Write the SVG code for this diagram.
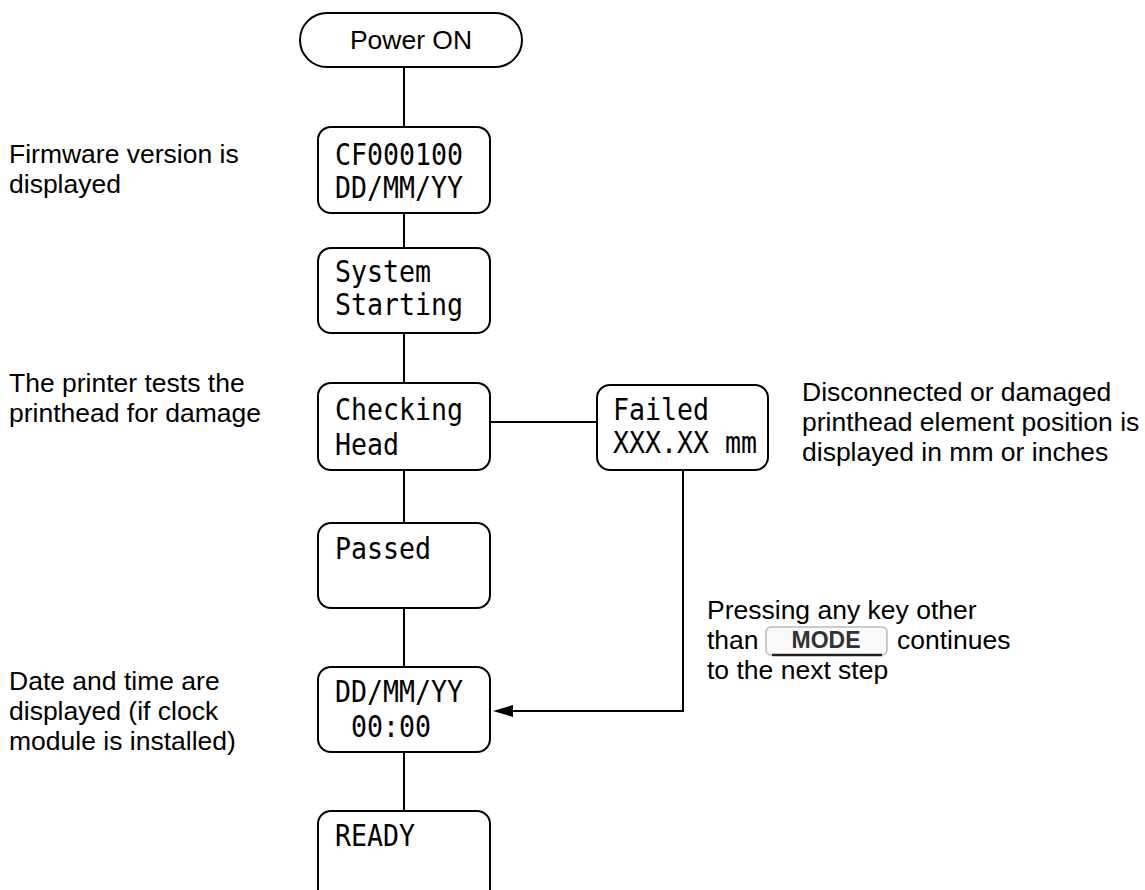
<svg xmlns="http://www.w3.org/2000/svg" width="1145" height="890" viewBox="0 0 1145 890">
<style>
.box{fill:#fff;stroke:#000;stroke-width:2}
.lcd{font-family:"DejaVu Sans Mono",monospace;font-size:30px;fill:#000}
.lbl{font-family:"Liberation Sans",Arial,sans-serif;font-size:26.5px;fill:#000}
.conn{fill:none;stroke:#000;stroke-width:2}
</style>
<rect width="1145" height="890" fill="#fff"/>
<g id="connectors">
<line class="conn" x1="404" y1="67" x2="404" y2="127"/>
<line class="conn" x1="404" y1="213" x2="404" y2="248"/>
<line class="conn" x1="404" y1="333" x2="404" y2="383"/>
<line class="conn" x1="404" y1="470" x2="404" y2="523"/>
<line class="conn" x1="404" y1="608" x2="404" y2="667"/>
<line class="conn" x1="404" y1="752" x2="404" y2="811"/>
<line class="conn" x1="490" y1="422" x2="597" y2="422"/>
<polyline class="conn" points="683,470 683,711 513,711"/>
<path d="M493,711 L513,705 L513,717 Z" fill="#000"/>
</g>
<g id="power-on">
<rect class="box" x="300" y="13" width="222" height="54" rx="27"/>
<text class="lbl" x="411" y="49" text-anchor="middle">Power ON</text>
</g>
<g id="firmware">
<rect class="box" x="318" y="127" width="172" height="86" rx="13"/>
<text class="lcd" x="335" y="165" textLength="128" lengthAdjust="spacingAndGlyphs">CF000100</text>
<text class="lcd" x="335" y="198" textLength="128" lengthAdjust="spacingAndGlyphs">DD/MM/YY</text>
</g>
<g id="system">
<rect class="box" x="318" y="248" width="172" height="85" rx="13"/>
<text class="lcd" x="335" y="282" textLength="96" lengthAdjust="spacingAndGlyphs">System</text>
<text class="lcd" x="335" y="315" textLength="128" lengthAdjust="spacingAndGlyphs">Starting</text>
</g>
<g id="checking">
<rect class="box" x="318" y="383" width="172" height="87" rx="13"/>
<text class="lcd" x="335" y="420" textLength="128" lengthAdjust="spacingAndGlyphs">Checking</text>
<text class="lcd" x="335" y="455" textLength="64" lengthAdjust="spacingAndGlyphs">Head</text>
</g>
<g id="failed">
<rect class="box" x="597" y="385" width="171" height="85" rx="13"/>
<text class="lcd" x="613" y="420" textLength="96" lengthAdjust="spacingAndGlyphs">Failed</text>
<text class="lcd" x="613" y="453" textLength="144" lengthAdjust="spacingAndGlyphs">XXX.XX mm</text>
</g>
<g id="passed">
<rect class="box" x="318" y="523" width="172" height="85" rx="13"/>
<text class="lcd" x="335" y="559" textLength="96" lengthAdjust="spacingAndGlyphs">Passed</text>
</g>
<g id="datetime">
<rect class="box" x="318" y="667" width="172" height="85" rx="13"/>
<text class="lcd" x="335" y="702" textLength="128" lengthAdjust="spacingAndGlyphs">DD/MM/YY</text>
<text class="lcd" x="351" y="737" textLength="80" lengthAdjust="spacingAndGlyphs">00:00</text>
</g>
<g id="ready">
<rect class="box" x="318" y="811" width="172" height="110" rx="13"/>
<text class="lcd" x="335" y="846" textLength="80" lengthAdjust="spacingAndGlyphs">READY</text>
</g>
<g id="label-firmware">
<text class="lbl" x="9" y="163">Firmware version is</text>
<text class="lbl" x="9" y="193">displayed</text>
</g>
<g id="label-printer">
<text class="lbl" x="9" y="392">The printer tests the</text>
<text class="lbl" x="9" y="422">printhead for damage</text>
</g>
<g id="label-date">
<text class="lbl" x="9" y="690">Date and time are</text>
<text class="lbl" x="9" y="720">displayed (if clock</text>
<text class="lbl" x="9" y="750">module is installed)</text>
</g>
<g id="label-disconnected">
<text class="lbl" x="802" y="401">Disconnected or damaged</text>
<text class="lbl" x="802" y="431">printhead element position is</text>
<text class="lbl" x="802" y="461">displayed in mm or inches</text>
</g>
<g id="label-pressing">
<text class="lbl" x="707" y="619">Pressing any key other</text>
<text class="lbl" x="707" y="649">than</text>
<rect x="766" y="627" width="121" height="28" rx="5" fill="#fafafa" stroke="#bbb" stroke-width="1.5"/>
<line x1="772" y1="655" x2="882" y2="655" stroke="#222" stroke-width="2.5"/>
<text x="826" y="648" text-anchor="middle" font-family="Liberation Sans,Arial,sans-serif" font-weight="bold" font-size="23" fill="#333">MODE</text>
<text class="lbl" x="897" y="649">continues</text>
<text class="lbl" x="707" y="679">to the next step</text>
</g>
</svg>
